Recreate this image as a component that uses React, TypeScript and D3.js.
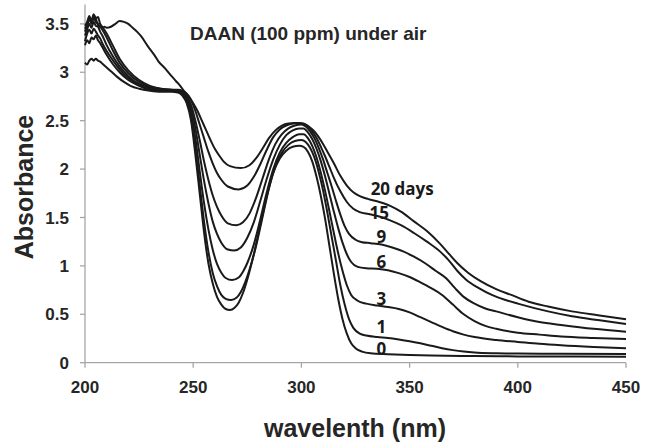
import React from "react";
import * as d3 from "d3";

// ---- data (wavelength nm, absorbance) ----
const day0: [number, number][] = [
  [200, 3.1], [201, 3.08], [202, 3.12], [203, 3.14], [204, 3.12], [205, 3.14], [206, 3.12], [207, 3.11], [208, 3.09],
  [210, 3.05], [212, 3.01], [215, 2.95], [218, 2.9], [221, 2.86], [225, 2.83], [230, 2.81], [235, 2.8], [240, 2.8],
  [243, 2.79], [245, 2.76], [247, 2.68], [249, 2.5], [251, 2.15], [253, 1.75], [255, 1.35], [257, 1.03], [259, 0.82],
  [261, 0.68], [263, 0.6], [265, 0.555], [267, 0.545], [269, 0.565], [271, 0.62], [273, 0.72], [275, 0.86], [278, 1.12],
  [281, 1.42], [284, 1.72], [287, 1.96], [290, 2.11], [293, 2.19], [296, 2.23], [299, 2.24], [301, 2.23], [303, 2.18],
  [305, 2.08], [307, 1.92], [309, 1.72], [311, 1.48], [313, 1.2], [315, 0.92], [317, 0.66], [319, 0.45], [321, 0.3],
  [323, 0.2], [325, 0.15], [328, 0.115], [332, 0.097], [340, 0.088], [350, 0.08], [360, 0.074], [380, 0.068],
  [400, 0.065], [450, 0.062],
];
const day1: [number, number][] = [
  [200, 3.28], [201, 3.33], [202, 3.3], [203, 3.36], [204, 3.34], [205, 3.38], [206, 3.33], [207, 3.3], [208, 3.26],
  [210, 3.18], [213, 3.08], [216, 3.0], [220, 2.92], [225, 2.86], [230, 2.82], [235, 2.81], [240, 2.81], [243, 2.8],
  [245, 2.77], [247, 2.7], [249, 2.54], [251, 2.22], [253, 1.84], [255, 1.46], [257, 1.15], [259, 0.93], [261, 0.79],
  [263, 0.7], [265, 0.66], [267.5, 0.648], [270, 0.67], [272, 0.73], [274, 0.83], [276, 0.96], [279, 1.2], [282, 1.5],
  [285, 1.8], [288, 2.03], [291, 2.17], [294, 2.25], [297, 2.29], [300, 2.3], [302, 2.28], [304, 2.22], [306, 2.12],
  [308, 1.97], [310, 1.78], [312, 1.55], [314, 1.3], [316, 1.05], [318, 0.8], [320, 0.6], [322, 0.45], [324, 0.36],
  [327, 0.3], [330, 0.28], [335, 0.265], [340, 0.255], [345, 0.24], [350, 0.222], [355, 0.2], [360, 0.175],
  [365, 0.15], [370, 0.13], [375, 0.115], [380, 0.105], [390, 0.097], [400, 0.094], [420, 0.092], [450, 0.09],
];
const day3: [number, number][] = [
  [200, 3.32], [201, 3.4], [202, 3.44], [203, 3.4], [204, 3.45], [205, 3.42], [206, 3.38], [207, 3.35], [208, 3.3],
  [210, 3.22], [213, 3.12], [216, 3.03], [220, 2.94], [225, 2.87], [230, 2.83], [235, 2.82], [240, 2.81], [243, 2.8],
  [245, 2.78], [247, 2.72], [249, 2.58], [251, 2.32], [253, 1.98], [255, 1.65], [257, 1.38], [259, 1.17], [261, 1.02],
  [263, 0.93], [265, 0.875], [268, 0.854], [271, 0.88], [273, 0.94], [275, 1.03], [278, 1.22], [281, 1.48], [284, 1.76],
  [287, 2.0], [290, 2.17], [293, 2.27], [296, 2.33], [299, 2.36], [301, 2.36], [303, 2.32], [305, 2.24], [307, 2.12],
  [309, 1.96], [311, 1.77], [313, 1.56], [315, 1.34], [317, 1.13], [319, 0.95], [321, 0.8], [323, 0.7], [326, 0.64],
  [330, 0.61], [335, 0.59], [340, 0.575], [345, 0.555], [350, 0.52], [355, 0.47], [360, 0.42], [365, 0.37],
  [370, 0.325], [375, 0.29], [380, 0.265], [390, 0.235], [400, 0.215], [410, 0.195], [420, 0.18], [435, 0.163],
  [450, 0.15],
];
const day6: [number, number][] = [
  [200, 3.38], [201, 3.44], [202, 3.5], [203, 3.46], [204, 3.52], [205, 3.48], [206, 3.47], [207, 3.42], [208, 3.38],
  [210, 3.28], [213, 3.16], [216, 3.06], [220, 2.96], [225, 2.88], [230, 2.84], [235, 2.82], [240, 2.81], [243, 2.81],
  [245, 2.79], [247, 2.74], [249, 2.62], [251, 2.42], [253, 2.15], [255, 1.88], [257, 1.65], [259, 1.46], [261, 1.33],
  [263, 1.24], [266, 1.17], [269, 1.16], [272, 1.19], [275, 1.29], [278, 1.45], [281, 1.67], [284, 1.9], [287, 2.1],
  [290, 2.25], [293, 2.35], [296, 2.4], [299, 2.42], [301, 2.42], [303, 2.38], [305, 2.31], [307, 2.21], [309, 2.08],
  [311, 1.92], [313, 1.74], [315, 1.56], [317, 1.39], [319, 1.24], [321, 1.12], [323, 1.04], [326, 0.99], [330, 0.975],
  [335, 0.97], [340, 0.955], [345, 0.925], [350, 0.885], [355, 0.83], [360, 0.77], [365, 0.7], [370, 0.6],
  [375, 0.5], [380, 0.43], [385, 0.38], [390, 0.35], [400, 0.31], [410, 0.29], [420, 0.27], [435, 0.255], [450, 0.245],
];
const day9: [number, number][] = [
  [200, 3.42], [201, 3.48], [202, 3.55], [203, 3.5], [204, 3.56], [205, 3.52], [206, 3.5], [207, 3.47], [208, 3.44],
  [210, 3.36], [213, 3.22], [216, 3.1], [220, 2.99], [225, 2.9], [230, 2.85], [235, 2.83], [240, 2.82], [243, 2.81],
  [245, 2.8], [247, 2.76], [249, 2.66], [251, 2.5], [253, 2.3], [255, 2.08], [257, 1.89], [259, 1.73], [261, 1.61],
  [263, 1.52], [266, 1.44], [270, 1.42], [273, 1.45], [276, 1.54], [279, 1.7], [282, 1.9], [285, 2.1], [288, 2.26],
  [291, 2.36], [294, 2.42], [297, 2.45], [300, 2.46], [302, 2.44], [304, 2.39], [306, 2.32], [308, 2.22], [310, 2.1],
  [312, 1.96], [314, 1.82], [316, 1.67], [318, 1.53], [320, 1.41], [322, 1.33], [325, 1.27], [328, 1.245],
  [332, 1.235], [337, 1.22], [342, 1.19], [347, 1.15], [352, 1.095], [357, 1.03], [362, 0.95], [367, 0.87],
  [371, 0.77], [375, 0.68], [380, 0.61], [385, 0.56], [390, 0.53], [400, 0.47], [410, 0.42], [420, 0.39], [435, 0.35],
  [450, 0.32],
];
const day15: [number, number][] = [
  [200, 3.48], [201, 3.52], [202, 3.58], [203, 3.53], [204, 3.6], [205, 3.56], [206, 3.57], [207, 3.5], [208, 3.47],
  [210, 3.4], [213, 3.27], [216, 3.14], [220, 3.02], [225, 2.92], [230, 2.86], [235, 2.83], [240, 2.82], [243, 2.82],
  [245, 2.81], [247, 2.78], [249, 2.71], [251, 2.6], [253, 2.46], [255, 2.32], [257, 2.18], [259, 2.06], [261, 1.96],
  [263, 1.89], [266, 1.82], [271, 1.79], [275, 1.83], [278, 1.92], [281, 2.05], [284, 2.2], [287, 2.33], [290, 2.41],
  [293, 2.45], [296, 2.47], [299, 2.475], [301, 2.47], [303, 2.44], [305, 2.39], [307, 2.32], [309, 2.23], [311, 2.13],
  [313, 2.02], [315, 1.91], [318, 1.77], [321, 1.66], [324, 1.59], [327, 1.555], [331, 1.535], [336, 1.51],
  [341, 1.47], [346, 1.42], [352, 1.34], [358, 1.25], [364, 1.15], [368, 1.06], [372, 0.95], [376, 0.86], [382, 0.77],
  [388, 0.7], [394, 0.65], [400, 0.61], [414, 0.53], [425, 0.48], [437, 0.44], [450, 0.4],
];
const day20: [number, number][] = [
  [200, 3.45], [201, 3.5], [202, 3.56], [203, 3.52], [204, 3.58], [205, 3.55], [206, 3.49], [207, 3.47], [208, 3.46],
  [209, 3.47], [210, 3.46], [212, 3.47], [214, 3.5], [216, 3.53], [218, 3.52], [220, 3.5], [222, 3.46], [224, 3.42],
  [226, 3.37], [229, 3.27], [232, 3.18], [234, 3.11], [237, 3.04], [240, 2.96], [242, 2.91], [244, 2.86], [246, 2.8],
  [248, 2.75], [250, 2.68], [252, 2.6], [254, 2.5], [256, 2.4], [258, 2.3], [260, 2.21], [262, 2.14], [264, 2.08],
  [267, 2.03], [272, 2.01], [276, 2.04], [279, 2.11], [282, 2.21], [285, 2.32], [288, 2.4], [291, 2.45], [294, 2.47],
  [297, 2.475], [300, 2.47], [302, 2.46], [304, 2.43], [306, 2.39], [308, 2.33], [310, 2.26], [312, 2.18], [315, 2.06],
  [318, 1.93], [321, 1.83], [324, 1.76], [327, 1.72], [331, 1.69], [336, 1.66], [341, 1.62], [346, 1.56], [352, 1.46],
  [358, 1.36], [364, 1.23], [368, 1.13], [372, 1.03], [377, 0.93], [383, 0.84], [390, 0.76], [397, 0.7], [405, 0.63],
  [414, 0.58], [425, 0.53], [437, 0.49], [450, 0.45],
];

const seriesData = [day0, day1, day3, day6, day9, day15, day20];
const seriesLabels = ["0", "1", "3", "6", "9", "15", "20 days"];
// label anchor points in data units (wavelength, absorbance)
const labelWave = [337, 337, 337, 337, 337, 336, 332];
const labelAbs = [0.08, 0.31, 0.6, 0.98, 1.24, 1.48, 1.73];
const labelAnchor = ["middle", "middle", "middle", "middle", "middle", "middle", "start"];

const xTicks = [200, 250, 300, 350, 400, 450];
const yTicks = [0, 0.5, 1, 1.5, 2, 2.5, 3, 3.5];
const yTickLabels = ["0", "0.5", "1", "1.5", "2", "2.5", "3", "3.5"];

const W = 647;
const H = 443;
const margin = { left: 85, right: 21, top: 4.5, bottom: 80.3 };

export default function App() {
  const x = d3.scaleLinear().domain([200, 450]).range([margin.left, W - margin.right]);
  const y = d3.scaleLinear().domain([0, 3.7]).range([H - margin.bottom, margin.top]);
  const line = d3
    .line<[number, number]>()
    .x((d) => x(d[0]))
    .y((d) => y(d[1]))
    .curve(d3.curveMonotoneX);

  const axisColor = "#a6a6a6";
  const tickFont = "'Liberation Sans', Arial, sans-serif";
  const y0 = y(0);

  return (
    <svg
      width={W}
      height={H}
      style={{ position: "absolute", left: 0, top: 0, background: "#fff" }}
      fontFamily={tickFont}
    >
      {/* axes */}
      <line x1={x(200)} x2={x(200)} y1={y(3.7)} y2={y0} stroke={axisColor} strokeWidth={1.3} />
      <line x1={x(200)} x2={x(450)} y1={y0} y2={y0} stroke={axisColor} strokeWidth={1.3} />
      {yTicks.map((t, i) => (
        <g key={"y" + t}>
          <line x1={x(200) - 5} x2={x(200)} y1={y(t)} y2={y(t)} stroke={axisColor} strokeWidth={1.3} />
          <text
            x={x(200) - 16}
            y={y(t)}
            dy="0.36em"
            textAnchor="end"
            fontSize={17}
            fontWeight="bold"
            fill="#262626"
          >
            {yTickLabels[i]}
          </text>
        </g>
      ))}
      {xTicks.map((t) => (
        <g key={"x" + t}>
          <line x1={x(t)} x2={x(t)} y1={y0} y2={y0 + 5} stroke={axisColor} strokeWidth={1.3} />
          <text x={x(t)} y={y0 + 30} textAnchor="middle" fontSize={17} fontWeight="bold" fill="#262626">
            {t}
          </text>
        </g>
      ))}

      {/* curves */}
      {seriesData.map((s, i) => (
        <path key={"s" + i} d={line(s) || ""} fill="none" stroke="#1a1a1a" strokeWidth={2} />
      ))}

      {/* curve labels */}
      {seriesLabels.map((l, i) => (
        <text
          key={"l" + i}
          x={x(labelWave[i])}
          y={y(labelAbs[i])}
          textAnchor={labelAnchor[i] as any}
          fontFamily="'Open Sans', sans-serif"
          fontWeight={700}
          fontSize={17}
          fill="#1a1a1a"
        >
          {l}
        </text>
      ))}

      {/* titles */}
      <text x={190} y={40} fontSize={19} fontWeight="bold" fill="#262626">
        DAAN (100 ppm) under air
      </text>
      <text x={355} y={436.5} textAnchor="middle" fontSize={25} fontWeight="bold" fill="#262626">
        wavelenth (nm)
      </text>
      <text
        transform={`translate(33, 187) rotate(-90)`}
        textAnchor="middle"
        fontSize={25}
        fontWeight="bold"
        fill="#262626"
      >
        Absorbance
      </text>
    </svg>
  );
}
